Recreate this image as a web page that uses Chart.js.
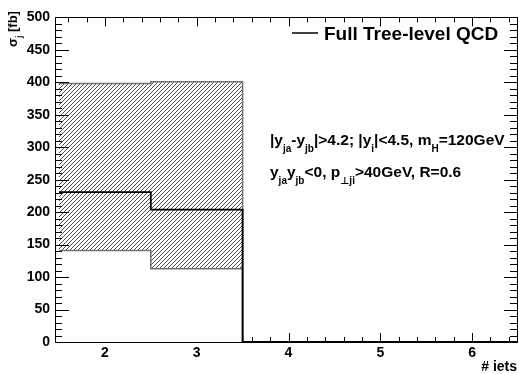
<!DOCTYPE html>
<html>
<head>
<meta charset="utf-8">
<script src="https://cdn.jsdelivr.net/npm/chart.js@4.4.1/dist/chart.umd.min.js"></script>
<style>
  html, body { margin: 0; padding: 0; background: #fff; }
  canvas { display: block; }
</style>
</head>
<body>
<canvas id="c" width="519" height="374"></canvas>
<script>
// Cross section per jet multiplicity bin (fb)
const jetBins = [2, 3, 4, 5, 6];
const xsCentral = [231, 204, 0, 0, 0];
const xsUpper = [398, 401, 0, 0, 0];
const xsLower = [141, 113, 0, 0, 0];
const xTickValues = [2, 3, 4, 5, 6];
const yTickValues = [0, 50, 100, 150, 200, 250, 300, 350, 400, 450, 500];

const FONT = "'Liberation Sans', Arial, Helvetica, 'DejaVu Sans', sans-serif";
const HATCH_COLOR = '#ff0000';
const HATCH_STEP = 4;

// Histogram outline points: each bin spans [b-0.5, b+0.5], drawn as steps
function stepPoints(vals) {
  const pts = jetBins.map((b, i) => ({ x: b - 0.5, y: vals[i] }));
  pts.push({ x: jetBins[jetBins.length - 1] + 0.5, y: vals[vals.length - 1] });
  return pts;
}

function richText(ctx, parts, x, y, size) {
  let cx = x;
  ctx.textAlign = 'left';
  ctx.textBaseline = 'alphabetic';
  for (const p of parts) {
    const s = p.sub ? Math.round(size * 0.66) : size;
    ctx.font = `bold ${s}px ${FONT}`;
    const dy = p.sub ? Math.round(size * 0.42) : 0;
    ctx.fillText(p.t, cx, y + dy);
    cx += ctx.measureText(p.t).width;
  }
}

const line1 = [
  { t: '|y' }, { t: 'ja', sub: true }, { t: '-y' }, { t: 'jb', sub: true },
  { t: '|>4.2; |y' }, { t: 'i', sub: true }, { t: '|<4.5, m' }, { t: 'H', sub: true },
  { t: '=120GeV' }
];
const line2 = [
  { t: 'y' }, { t: 'ja', sub: true }, { t: 'y' }, { t: 'jb', sub: true },
  { t: '<0, p' }, { t: '\u22A5ji', sub: true }, { t: '>40GeV, R=0.6' }
];

function px(v) { return Math.round(v) + 0.5; }
const AXIS_OFFSET = 4; // y axis line sits slightly left of the first bin edge

const framePlugin = {
  id: 'frameTicks',
  beforeDatasetsDraw(chart) {
    const { ctx, chartArea: a, scales: { x, y } } = chart;
    ctx.save();
    // bottom axis ticks (inward); the white area under the lower band covers part of them
    ctx.strokeStyle = '#000';
    ctx.lineWidth = 1;
    ctx.beginPath();
    for (let k = 8; k <= 32; k++) {
      const X = px(x.getPixelForValue(k / 5));
      const len = k % 5 === 0 ? 9 : 5;
      ctx.moveTo(X, a.bottom); ctx.lineTo(X, a.bottom - len);
    }
    ctx.stroke();

    // hatched uncertainty band between lower and upper bounds, bin by bin
    ctx.fillStyle = HATCH_COLOR;
    jetBins.forEach((b, i) => {
      if (xsUpper[i] <= xsLower[i]) return;
      const x0 = Math.round(x.getPixelForValue(b - 0.5));
      const x1 = Math.round(x.getPixelForValue(b + 0.5));
      const y0 = Math.round(y.getPixelForValue(xsUpper[i]));
      const y1 = Math.round(y.getPixelForValue(xsLower[i]));
      for (let py = y0; py < y1; py++) {
        const start = x0 + ((HATCH_STEP - 1 - ((x0 + py) % HATCH_STEP)) + HATCH_STEP) % HATCH_STEP;
        for (let qx = start; qx < x1; qx += HATCH_STEP) ctx.fillRect(qx, py, 1, 1);
      }
    });
    ctx.restore();
  },
  afterDatasetsDraw(chart) {
    const { ctx, chartArea: a, scales: { x, y } } = chart;
    const L = a.left - AXIS_OFFSET;
    const R = a.right - 1;
    ctx.save();
    ctx.strokeStyle = '#000';
    ctx.lineWidth = 1;
    ctx.beginPath();
    // top axis ticks
    for (let k = 8; k <= 32; k++) {
      const X = px(x.getPixelForValue(k / 5));
      const len = k % 5 === 0 ? 9 : 5;
      ctx.moveTo(X, a.top); ctx.lineTo(X, a.top + len);
    }
    // left and right axis ticks
    for (let v = 10; v < 500; v += 10) {
      const Y = px(y.getPixelForValue(v));
      const major = v % 50 === 0;
      ctx.moveTo(L, Y); ctx.lineTo(L + (major ? 14 : 7), Y);
      ctx.moveTo(R, Y); ctx.lineTo(R - (major ? 13 : 7), Y);
    }
    ctx.stroke();
    // frame
    ctx.strokeRect(px(L), px(a.top), Math.round(R - L), Math.round(a.bottom - a.top));

    // legend
    ctx.lineWidth = 1.5;
    ctx.beginPath();
    ctx.moveTo(292, 33); ctx.lineTo(318, 33);
    ctx.stroke();
    ctx.fillStyle = '#000';
    ctx.font = `bold 19px ${FONT}`;
    ctx.textAlign = 'left';
    ctx.textBaseline = 'alphabetic';
    ctx.fillText('Full Tree-level QCD', 324, 40);

    // selection cuts
    richText(ctx, line1, 270, 145, 15.5);
    richText(ctx, line2, 270, 177, 15.5);

    // axis titles
    ctx.font = `bold 14px ${FONT}`;
    ctx.textAlign = 'right';
    ctx.fillText('# iets', 517, 371);

    ctx.save();
    ctx.translate(17, 47);
    ctx.rotate(-Math.PI / 2);
    richText(ctx, [{ t: '\u03C3' }, { t: 'j', sub: true }, { t: ' [fb]' }], 0, 0, 13);
    ctx.restore();

    ctx.restore();
  }
};

new Chart(document.getElementById('c'), {
  type: 'line',
  data: {
    datasets: [
      {
        label: 'Full Tree-level QCD',
        data: stepPoints(xsCentral),
        stepped: 'before',
        borderColor: '#000',
        borderWidth: 1.8,
        pointRadius: 0,
        fill: false,
        order: 0
      },
      {
        label: 'upper',
        data: stepPoints(xsUpper),
        stepped: 'before',
        borderColor: '#707070',
        borderWidth: 1.5,
        pointRadius: 0,
        fill: false,
        order: 1
      },
      {
        label: 'lower',
        data: stepPoints(xsLower),
        stepped: 'before',
        borderColor: '#707070',
        borderWidth: 1.5,
        pointRadius: 0,
        backgroundColor: '#ffffff',
        fill: { target: 'origin', above: '#ffffff', below: '#ffffff' },
        order: 2
      }
    ]
  },
  options: {
    responsive: false,
    animation: false,
    devicePixelRatio: 1,
    events: [],
    layout: { padding: { top: 9, right: 1, left: 0, bottom: 0 } },
    plugins: { legend: { display: false }, tooltip: { enabled: false } },
    scales: {
      x: {
        type: 'linear',
        min: 1.5,
        max: 6.5,
        grid: { display: false, drawTicks: false },
        border: { display: false },
        afterBuildTicks(s) { s.ticks = xTickValues.map(v => ({ value: v })); },
        afterFit(s) { s.height = 32; },
        ticks: {
          color: '#000',
          padding: 3,
          maxRotation: 0,
          font: { family: FONT, size: 14, weight: 'bold' },
          callback: v => String(v)
        }
      },
      y: {
        type: 'linear',
        min: 0,
        max: 500,
        grid: { display: false, drawTicks: false },
        border: { display: false },
        afterBuildTicks(s) { s.ticks = yTickValues.map(v => ({ value: v })); },
        afterFit(s) { s.width = 59; },
        ticks: {
          color: '#000',
          padding: 9,
          font: { family: FONT, size: 14, weight: 'bold' },
          callback: v => String(v)
        }
      }
    }
  },
  plugins: [framePlugin]
});
</script>
</body>
</html>
